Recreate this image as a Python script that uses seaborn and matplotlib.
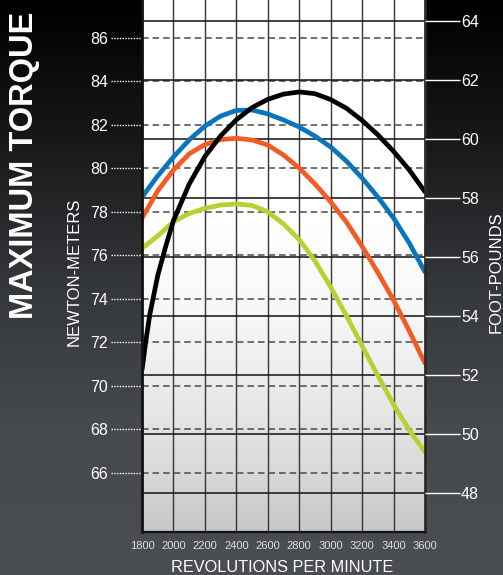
import numpy as np
import pandas as pd
import matplotlib
matplotlib.use("Agg")
import matplotlib.pyplot as plt
import seaborn as sns
from matplotlib.colors import LinearSegmentedColormap
from matplotlib.transforms import blended_transform_factory

# ---------------- data ----------------
rpm = [1800, 1900, 2000, 2100, 2200, 2300, 2400, 2500, 2600,
       2700, 2800, 2900, 3000, 3100, 3200, 3300, 3400, 3500, 3600]
blue = [78.69, 79.66, 80.53, 81.31, 81.95, 82.41, 82.67, 82.69, 82.51,
        82.23, 81.91, 81.49, 80.99, 80.34, 79.56, 78.69, 77.72, 76.57, 75.24]
orange = [77.71, 78.97, 79.93, 80.67, 81.10, 81.33, 81.39, 81.31, 81.08,
          80.62, 80.02, 79.29, 78.47, 77.54, 76.42, 75.22, 73.95, 72.53, 71.04]
green = [76.33, 76.90, 77.55, 77.93, 78.17, 78.32, 78.37, 78.30, 78.01,
         77.45, 76.73, 75.75, 74.55, 73.23, 71.85, 70.47, 69.15, 67.97, 66.97]

black_rpm = [1800, 1825, 1850, 1900, 1950, 2000, 2100, 2200, 2300, 2400, 2500,
             2600, 2700, 2800, 2900, 3000, 3100, 3200, 3300, 3400, 3500, 3600]
black = [70.74, 72.10, 73.30, 75.07, 76.40, 77.60, 79.28, 80.55, 81.50, 82.24, 82.80,
         83.18, 83.42, 83.52, 83.44, 83.17, 82.77, 82.21, 81.55, 80.79, 79.93, 78.93]

x_ticks = [1800, 2000, 2200, 2400, 2600, 2800, 3000, 3200, 3400, 3600]
nm_ticks = [66, 68, 70, 72, 74, 76, 78, 80, 82, 84, 86]
ftlb_ticks = [48, 50, 52, 54, 56, 58, 60, 62, 64]
NM_PER_FTLB = 1.355818

title = "MAXIMUM TORQUE"
left_label = "NEWTON-METERS"
right_label = "FOOT-POUNDS"
x_label = "REVOLUTIONS PER MINUTE"

series_names = ["green", "orange", "blue", "black"]
series_x = [rpm, rpm, rpm, black_rpm]
series_values = [green, orange, blue, black]
palette = {"green": "#b6d232", "orange": "#f35b24", "blue": "#0a74bc", "black": "#000000"}

df = pd.concat([pd.DataFrame({"rpm": xs, "torque": v, "series": n})
                for n, xs, v in zip(series_names, series_x, series_values)],
               ignore_index=True)

# ---------------- figure ----------------
plt.rcParams["font.family"] = ["Liberation Sans", "DejaVu Sans"]
W, H = 503, 575
fig = plt.figure(figsize=(W / 100, H / 100), dpi=100)

# figure background gradient
bg = fig.add_axes([0, 0, 1, 1], zorder=-10)
fig_cmap = LinearSegmentedColormap.from_list(
    "figbg", [(0.0, "#4a4e51"), (0.25, "#474a4d"), (0.5, "#35383b"),
              (0.78, "#141516"), (1.0, "#000000")])
bg.imshow(np.linspace(0, 1, 256).reshape(-1, 1), aspect="auto", cmap=fig_cmap,
          origin="lower", extent=[0, 1, 0, 1])
bg.set_xlim(0, 1); bg.set_ylim(0, 1)
bg.axis("off")

x0, x1 = 142, 425
yb = 532
ax = fig.add_axes([x0 / W, (H - yb) / H, (x1 - x0) / W, yb / H])
ax.set_facecolor("none")

ylo, yhi = 63.287, 87.747
xlo, xhi = 1800, 3600

# plot area gradient
plot_cmap = LinearSegmentedColormap.from_list(
    "plotbg", [(0.0, "#c8c8c8"), (0.12, "#dadada"), (0.3, "#eeeeee"),
               (0.45, "#f9f9f9"), (0.58, "#ffffff"), (1.0, "#ffffff")])
ax.imshow(np.linspace(0, 1, 256).reshape(-1, 1), aspect="auto", cmap=plot_cmap,
          origin="lower", extent=[0, 1, 0, 1], transform=ax.transAxes, zorder=0)

# grid lines
for xv in x_ticks[1:-1]:
    ax.axvline(xv, color="#3c3c3c", lw=1.05, zorder=1)
for v in nm_ticks:
    ax.axhline(v, color="#4a4a4a", lw=1.1, ls=(0, (4.3, 2.6)), zorder=1)
for v in ftlb_ticks:
    ax.axhline(v * NM_PER_FTLB, color="#111111", lw=1.1, zorder=1)

sns.lineplot(data=df, x="rpm", y="torque", hue="series", hue_order=series_names,
             palette=palette, linewidth=3.4, legend=False, ax=ax, sort=True,
             solid_capstyle="round", solid_joinstyle="round", zorder=3)

ax.set_xlim(xlo, xhi)
ax.set_ylim(ylo, yhi)
ax.set_xlabel("")
ax.set_ylabel("")

ax.set_xticks(x_ticks)
ax.set_xticklabels([str(t) for t in x_ticks])
ax.tick_params(axis="x", length=0, pad=6.5, labelsize=8, labelcolor="#dddddd")
ax.set_yticks(nm_ticks)
ax.set_yticklabels([str(t) for t in nm_ticks])
ax.tick_params(axis="y", length=0, pad=24.5, labelsize=11.5, labelcolor="white")

# dotted white tick marks on left
trans = blended_transform_factory(ax.transAxes, ax.transData)
for v in nm_ticks:
    ax.plot([-0.11, 0], [v, v], transform=trans, clip_on=False, color="white",
            lw=1.0, ls=(0, (1, 1)), zorder=5)

ax.spines["top"].set_visible(False)
ax.spines["left"].set_color("#111111"); ax.spines["left"].set_linewidth(2.0)
ax.spines["bottom"].set_color("#111111"); ax.spines["bottom"].set_linewidth(1.6)
ax.spines["right"].set_color("#2b2b2b"); ax.spines["right"].set_linewidth(2.0)
for sp in ax.spines.values():
    sp.set_zorder(6)

# right axis in foot-pounds
ax2 = ax.twinx()
ax2.set_ylim(ylo / NM_PER_FTLB, yhi / NM_PER_FTLB)
ax2.set_yticks(ftlb_ticks)
ax2.set_yticklabels([str(t) for t in ftlb_ticks])
ax2.tick_params(axis="y", direction="out", length=25, width=1.0, color="white",
                labelcolor="white", labelsize=11.5, pad=1)
for sp in ax2.spines.values():
    sp.set_visible(False)

# labels
fig.text(25 / W, 1 - 165 / H, title, rotation=90, ha="center", va="center",
         fontsize=23.5, fontweight="bold", color="white")
fig.text(74 / W, 1 - 272 / H, left_label, rotation=90, ha="center", va="center",
         fontsize=12, color="white")
fig.text(496 / W, 1 - 272 / H, right_label, rotation=90, ha="center", va="center",
         fontsize=12, color="white")
fig.text(282 / W, 1 - 567 / H, x_label, ha="center", va="center",
         fontsize=11.7, color="white")

fig.savefig("out.png", dpi=100)
